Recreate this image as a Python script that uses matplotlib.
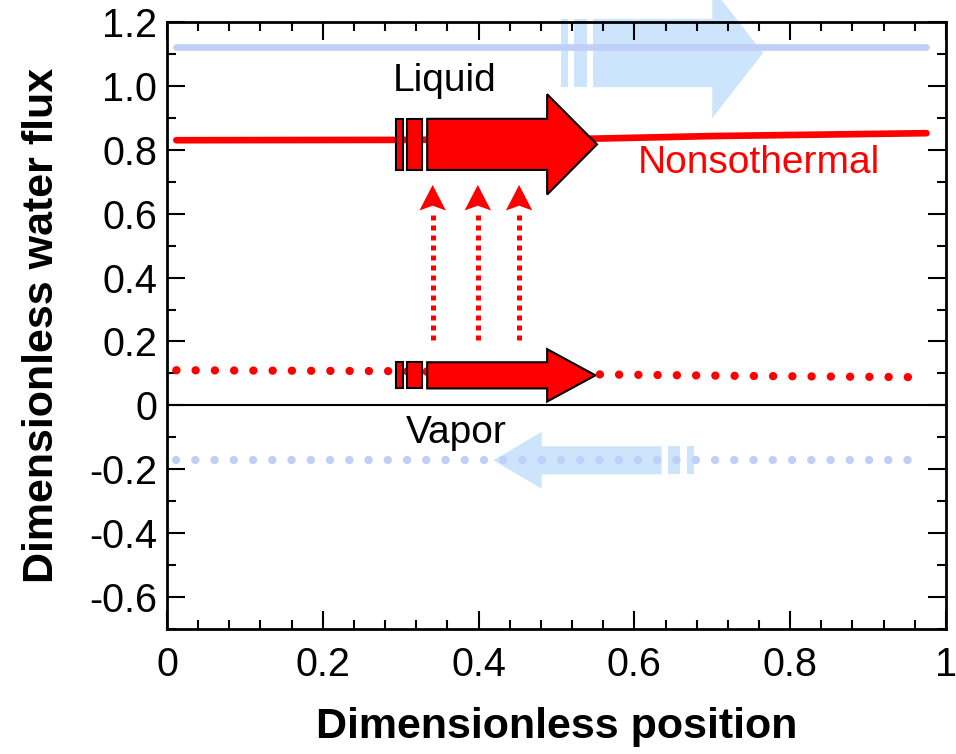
import matplotlib
matplotlib.use("Agg")
import matplotlib.pyplot as plt
from matplotlib.patches import Polygon, Rectangle
import numpy as np

plt.rcParams['font.family'] = ['Liberation Sans', 'DejaVu Sans']

# ---- data ----
liquid_x = [0.012, 0.975]
liquid_y = [1.122, 1.122]

nonis_liquid_x = [0.012, 0.30, 0.55, 0.70, 0.975]
nonis_liquid_y = [0.830, 0.831, 0.835, 0.843, 0.852]

nonis_vapor_x = [0.012, 0.30, 0.55, 0.75, 0.975]
nonis_vapor_y = [0.110, 0.107, 0.097, 0.092, 0.088]

vapor_x = [0.012, 0.975]
vapor_y = [-0.172, -0.172]

# vertical transfer arrows (x positions; bottom, top of shaft, tip)
transfer_x = [0.341, 0.399, 0.452]
transfer_y = [0.204, 0.61, 0.69]

# block arrows: [tail x, head base x, tip x, center y, shaft half-height, head half-height]
red_big_arrow = [0.334, 0.488, 0.552, 0.817, 0.080, 0.157]
red_big_breaks = [(0.294, 0.303), (0.308, 0.327)]
red_small_arrow = [0.334, 0.488, 0.550, 0.094, 0.041, 0.082]
red_small_breaks = [(0.294, 0.303), (0.308, 0.327)]
blue_liquid_arrow = [0.547, 0.700, 0.765, 1.103, 0.107, 0.204]
blue_liquid_breaks = [(0.506, 0.515), (0.522, 0.539)]
blue_vapor_arrow = [0.635, 0.481, 0.419, -0.172, 0.044, 0.089]
blue_vapor_breaks = [(0.643, 0.658), (0.667, 0.676)]

x_ticks = [0, 0.2, 0.4, 0.6, 0.8, 1.0]
x_tick_labels = ['0', '0.2', '0.4', '0.6', '0.8', '1']
y_ticks = [-0.6, -0.4, -0.2, 0, 0.2, 0.4, 0.6, 0.8, 1.0, 1.2]
y_tick_labels = ['-0.6', '-0.4', '-0.2', '0', '0.2', '0.4', '0.6', '0.8', '1.0', '1.2']

RED = '#ff0000'
BLUE_LINE = '#bfcff7'
BLUE_ARROW = '#cce4fc'

fig = plt.figure(figsize=(9.56, 7.54), dpi=100)
ax = fig.add_axes([0.1747, 0.1658, 0.9895 - 0.1747, 0.9708 - 0.1658])
ax.set_xlim(0, 1)
ax.set_ylim(-0.7, 1.2)


def block_arrow(spec, breaks, fc, ec, lw, z):
    x0, xb, xt, yc, hw, hh = spec
    pts = [(x0, yc - hw), (xb, yc - hw), (xb, yc - hh), (xt, yc),
           (xb, yc + hh), (xb, yc + hw), (x0, yc + hw)]
    ax.add_patch(Polygon(pts, closed=True, facecolor=fc, edgecolor=ec,
                         linewidth=lw, zorder=z, clip_on=False))
    for a, b in breaks:
        ax.add_patch(Rectangle((a, yc - hw), b - a, 2 * hw, facecolor=fc,
                               edgecolor=ec, linewidth=lw, zorder=z, clip_on=False))


dot = (0, (0.01, 2.3))

# blue liquid arrow + line
block_arrow(blue_liquid_arrow, blue_liquid_breaks, BLUE_ARROW, 'none', 0, 1)
ax.plot(liquid_x, liquid_y, color=BLUE_LINE, lw=4.8, solid_capstyle='round', zorder=2)

# blue vapor arrow + dotted line
block_arrow(blue_vapor_arrow, blue_vapor_breaks, BLUE_ARROW, 'none', 0, 1)
ax.plot(vapor_x, vapor_y, color=BLUE_LINE, lw=6, linestyle=dot,
        dash_capstyle='round', zorder=2)

# red lines
ax.plot(nonis_liquid_x, nonis_liquid_y, color=RED, lw=4.8, solid_capstyle='round', zorder=2)
ax.plot(nonis_vapor_x, nonis_vapor_y, color=RED, lw=6, linestyle=dot,
        dash_capstyle='round', zorder=2)

# red arrows
block_arrow(red_big_arrow, red_big_breaks, RED, 'black', 1.5, 3)
block_arrow(red_small_arrow, red_small_breaks, RED, 'black', 1.5, 3)

# zero line
ax.axhline(0, color='black', lw=1.5, zorder=2)

# vertical transfer arrows
for xv in transfer_x:
    ax.plot([xv, xv], [transfer_y[0], transfer_y[1]], color=RED, lw=3.6,
            linestyle=(0, (1, 1)), dash_capstyle='butt', zorder=3)
    hwx = 0.017
    ax.add_patch(Polygon([(xv, transfer_y[2]), (xv - hwx, transfer_y[1]),
                          (xv, transfer_y[1] + 0.015), (xv + hwx, transfer_y[1])],
                         closed=True, facecolor=RED, edgecolor='none', zorder=3))

# texts
ax.text(0.356, 0.984, 'Liquid', fontsize=28, ha='center', va='baseline', color='black', zorder=5)
ax.text(0.760, 0.727, 'Nonsothermal', fontsize=28, ha='center', va='baseline', color=RED, zorder=5)
ax.text(0.371, -0.119, 'Vapor', fontsize=28, ha='center', va='baseline', color='black', zorder=5)

# ticks
ax.set_xticks(x_ticks)
ax.set_xticklabels(x_tick_labels)
ax.set_yticks(y_ticks)
ax.set_yticklabels(y_tick_labels)
ax.set_xticks(np.arange(0, 1.0001, 0.04), minor=True)
ax.set_yticks(np.arange(-0.7, 1.2001, 0.1), minor=True)
ax.tick_params(which='both', direction='in', top=True, right=True, width=1.5, colors='black')
ax.tick_params(which='major', length=13, labelsize=28.5)
ax.tick_params(axis='x', which='major', pad=12)
ax.tick_params(axis='y', which='major', pad=7)
ax.tick_params(which='minor', length=6.5)
for s in ax.spines.values():
    s.set_linewidth(2)
    s.set_zorder(6)

ax.set_xlabel('Dimensionless position', fontsize=31, fontweight='bold', labelpad=17)
ax.set_ylabel('Dimensionless water flux', fontsize=31, fontweight='bold', labelpad=20)

fig.savefig('out.png', dpi=100)
